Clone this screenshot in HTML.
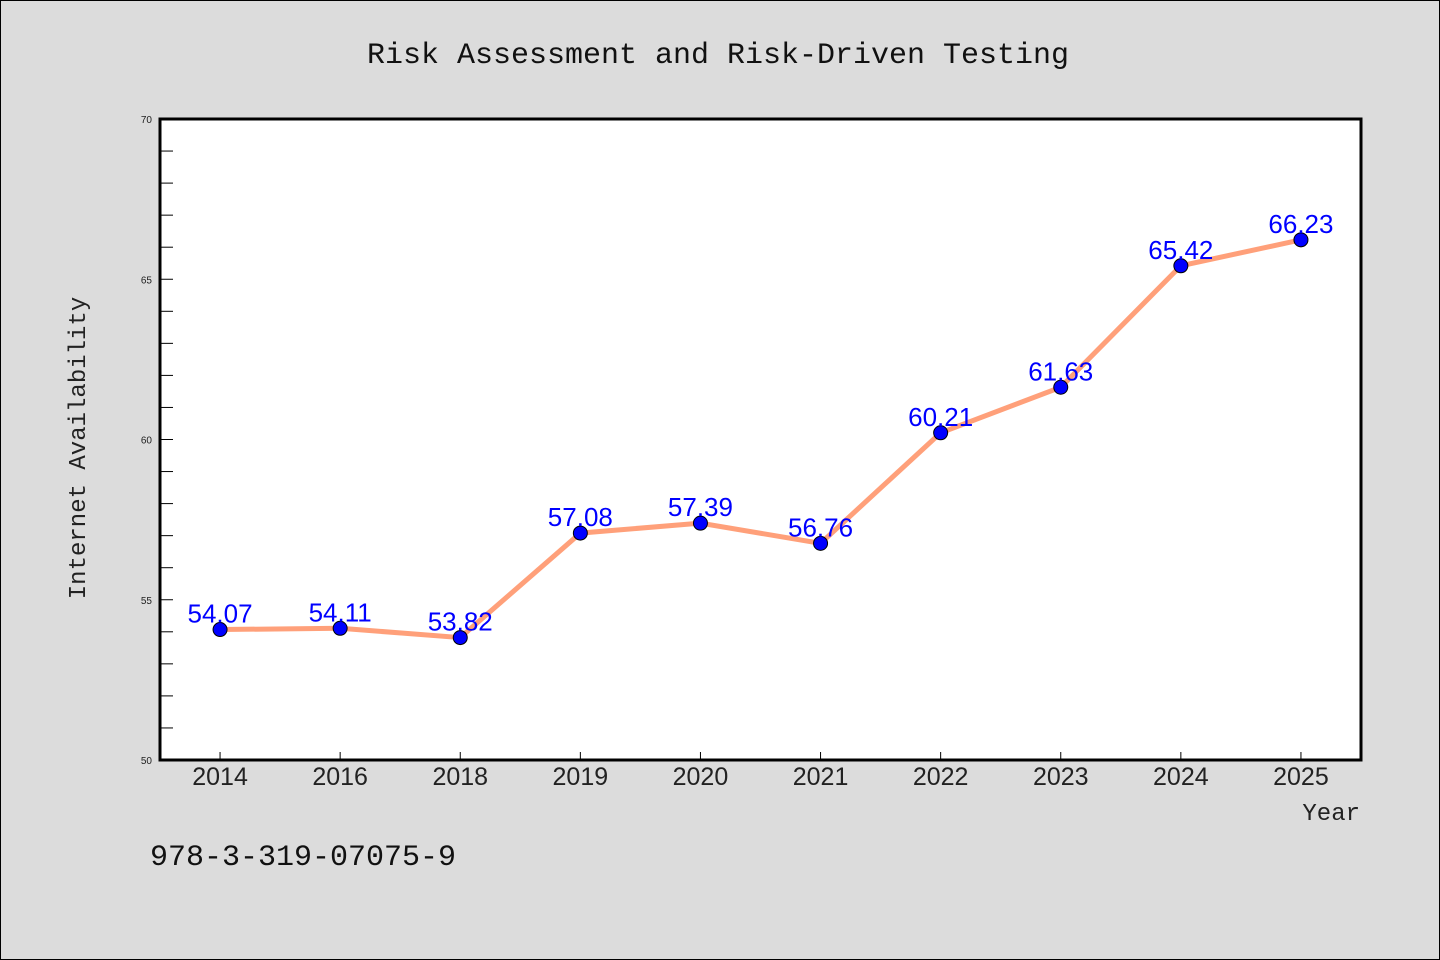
<!DOCTYPE html>
<html><head><meta charset="utf-8"><style>
html,body{margin:0;padding:0;background:#dcdcdc;}
svg{display:block;}
</style></head><body>
<svg width="1440" height="960" xmlns="http://www.w3.org/2000/svg">
<rect x="0.5" y="0.5" width="1439" height="959" fill="#dcdcdc" stroke="#000"/>
<text x="718" y="63" text-anchor="middle" font-family="Liberation Mono, monospace" font-size="30" fill="#111">Risk Assessment and Risk-Driven Testing</text>
<rect x="160" y="119" width="1201" height="641" fill="#fff" stroke="#000" stroke-width="3"/>
<g id="yaxis"></g><g id="xaxis"></g><g id="series"></g>
<text transform="translate(85,448) rotate(-90)" text-anchor="middle" font-family="Liberation Mono, monospace" font-size="24" fill="#222">Internet Availability</text>
<text x="1360" y="820" text-anchor="end" font-family="Liberation Mono, monospace" font-size="24" fill="#222">Year</text>
<text x="150" y="865" font-family="Liberation Mono, monospace" font-size="30" fill="#111">978-3-319-07075-9</text>
</svg>
<script>
const categories=["2014","2016","2018","2019","2020","2021","2022","2023","2024","2025"];
const values=[54.07,54.11,53.82,57.08,57.39,56.76,60.21,61.63,65.42,66.23];
const yTicks=[50,55,60,65,70];
const NS="http://www.w3.org/2000/svg";
const L=160,R=1361,T=119,B=760,yMin=50,yMax=70;
const xs=i=>L+(R-L)/categories.length*(i+0.5);
const ys=v=>B-(v-yMin)/(yMax-yMin)*(B-T);
function mk(tag,attrs,parent,txt){const e=document.createElementNS(NS,tag);for(const k in attrs)e.setAttribute(k,attrs[k]);if(txt!==undefined)e.textContent=txt;parent.appendChild(e);return e;}
const ya=document.getElementById('yaxis'),xa=document.getElementById('xaxis'),sg=document.getElementById('series');
for(let v=yMin;v<=yMax;v++){
  const t=mk('line',{x1:L,x2:L+(v%5===0?13:13),y1:ys(v),y2:ys(v),stroke:'#000','stroke-width':1},ya);
  
  
}
yTicks.forEach(v=>{
  const t=mk('text',{x:152,y:ys(v)+4,'text-anchor':'end','font-family':'Liberation Sans, sans-serif','font-size':10,fill:'#222'},ya,String(v));
  
  
});
categories.forEach((c,i)=>{
  const t=mk('line',{x1:xs(i),x2:xs(i),y1:B,y2:B-8,stroke:'#000','stroke-width':1},xa);
  
  
  const l=mk('text',{x:xs(i),y:785,'text-anchor':'middle','font-family':'Liberation Sans, sans-serif','font-size':25,fill:'#222'},xa,c);
  
  
});
const pl=mk('polyline',{points:values.map((v,i)=>xs(i)+','+ys(v)).join(' '),fill:'none',stroke:'#ffa07a','stroke-width':5},sg);


values.forEach((v,i)=>{
  const p=mk('circle',{cx:xs(i),cy:ys(v),r:7,fill:'#0000ff',stroke:'#000','stroke-width':1},sg);
  
  
});
values.forEach((v,i)=>{
  const t=mk('text',{x:xs(i),y:ys(v)-7,'text-anchor':'middle','font-family':'Liberation Sans, sans-serif','font-size':26,fill:'#0000ff'},sg,v.toFixed(2));
  
  
});
</script>
</body></html>
